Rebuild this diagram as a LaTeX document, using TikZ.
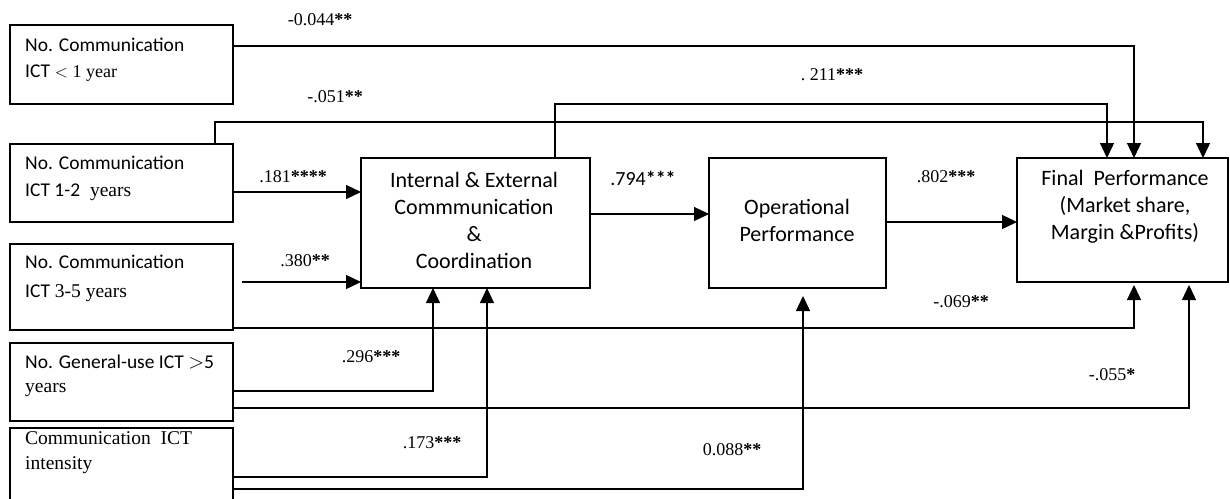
\documentclass[tikz,border=0pt]{standalone}
\usepackage{fontspec}
\setmainfont{Liberation Serif}
\newfontfamily\calfont{Carlito}
\usetikzlibrary{arrows.meta,calc}
\begin{document}
\begin{tikzpicture}[x=1pt,y=-1pt,
  box/.style={draw, line width=1.4pt, anchor=north west, inner sep=0pt, outer sep=0pt},
  ln/.style={line width=1.3pt},
  arr/.style={line width=1.3pt, -{Triangle[length=15pt,width=14pt]}},
  ltxt/.style={anchor=west, inner sep=0pt, font=\fontsize{19.5}{22}\selectfont},
  mtxt/.style={align=center, inner sep=0pt, font=\calfont\fontsize{22}{27}\selectfont},
  lab/.style={inner sep=0pt, font=\fontsize{18}{20}\selectfont}]
\useasboundingbox (0,0) rectangle (1230,498);
\clip (0,0) rectangle (1230,498);
% boxes
\node[box, minimum width=223pt, minimum height=79pt] (A) at (10,25) {};
\node[box, minimum width=223pt, minimum height=78pt] (B) at (10,144) {};
\node[box, minimum width=223pt, minimum height=86pt] (C) at (10,244) {};
\node[box, minimum width=223pt, minimum height=78pt] (D) at (10,343) {};
\node[box, minimum width=223pt, minimum height=85pt] (E) at (10,428) {};
\node[box, minimum width=229pt, minimum height=130pt] (I) at (361,158) {};
\node[box, minimum width=177pt, minimum height=130pt] (O) at (709,158) {};
\node[box, minimum width=211pt, minimum height=124pt] (F) at (1017,158) {};
% left texts
\node[ltxt] (A1) at (25,45) {\calfont No. Communication};
\node[ltxt] (A2) at (25,73) {{\calfont ICT} {\fontsize{18}{20}\selectfont$<$ 1 year}};
\node[ltxt] (B1) at (25,163) {\calfont No. Communication};
\node[ltxt] (B2) at (25,192) {{\calfont ICT 1-2} \ years};
\node[ltxt] (C1) at (25,262) {\calfont No. Communication};
\node[ltxt] (C2) at (25,293) {{\calfont ICT} 3-5 years};
\node[ltxt] (D1) at (25,362) {\calfont No. General-use ICT $>$5};
\node[ltxt] (D2) at (25,390) {years};
\node[ltxt] (E1) at (25,438) {Communication\ \ ICT};
\node[ltxt] (E2) at (25,465) {intensity};
% middle texts
\node[mtxt] (It) at (474,220) {Internal \& External\\ Commmunication\\ \&\\ Coordination};
\node[mtxt] (Ot) at (797,220) {Operational\\ Performance};
\node[mtxt] (Ft) at (1125,207) {Final\ \ Performance\\ (Market share,\\ Margin \&Profits)};
% connectors to Final from top
\draw[arr] (A.east |- 0,46) -| ($(F.north west)+(117,0)$);
\draw[arr] ($(B.north west)+(205,0)$) |- (1203,122) -- ($(F.north west)+(186,0)$);
\draw[arr] ($(I.north west)+(194,0)$) |- (1107,104) -- ($(F.north west)+(90,0)$);
% inputs into I
\draw[arr] (B.east |- 0,192) -- (I.west |- 0,192);
\coordinate (c0) at (242,282);
\draw[arr] (c0) -- (I.west |- c0);
\draw[arr] (D.east |- 0,391) -| ($(I.south west)+(72,0)$);
\draw[arr] (E.east |- 0,477) -| ($(I.south west)+(126,0)$);
% E to O
\draw[arr] (E.east |- 0,489) -| ($(O.south west)+(94,8)$);
% C and D to F bottom
\draw[arr] (C.east |- 0,328) -| ($(F.south west)+(117,3)$);
\draw[arr] (D.east |- 0,408) -| ($(F.south west)+(172,3)$);
% chain
\draw[arr] (I.east |- 0,214) -- (O.west |- 0,214);
\draw[arr] (O.east |- 0,222) -- (F.west |- 0,222);
% labels
\node[lab] (l1) at (320,20) {-0.044\textbf{**}};
\node[lab] (l2) at (335,97) {-.051\textbf{**}};
\node[lab] (l3) at (832,75) {.\ 211\textbf{***}};
\node[lab] (l4) at (293,177) {.181\textbf{****}};
\node[lab] (l5) at (305,261) {.380\textbf{**}};
\node[lab] (l6) at (371,357) {.296\textbf{***}};
\node[lab] (l7) at (432,443) {.173\textbf{***}};
\node[lab] (l8) at (732,450) {0.088\textbf{**}};
\node[lab, font=\calfont\fontsize{20}{22}\selectfont] (l9) at (643,178) {.794\textbf{***}};
\node[lab] (l10) at (946,177) {.802\textbf{***}};
\node[lab] (l11) at (961,302) {-.069\textbf{**}};
\node[lab] (l12) at (1112,375) {-.055\textbf{*}};
\end{tikzpicture}
\end{document}
